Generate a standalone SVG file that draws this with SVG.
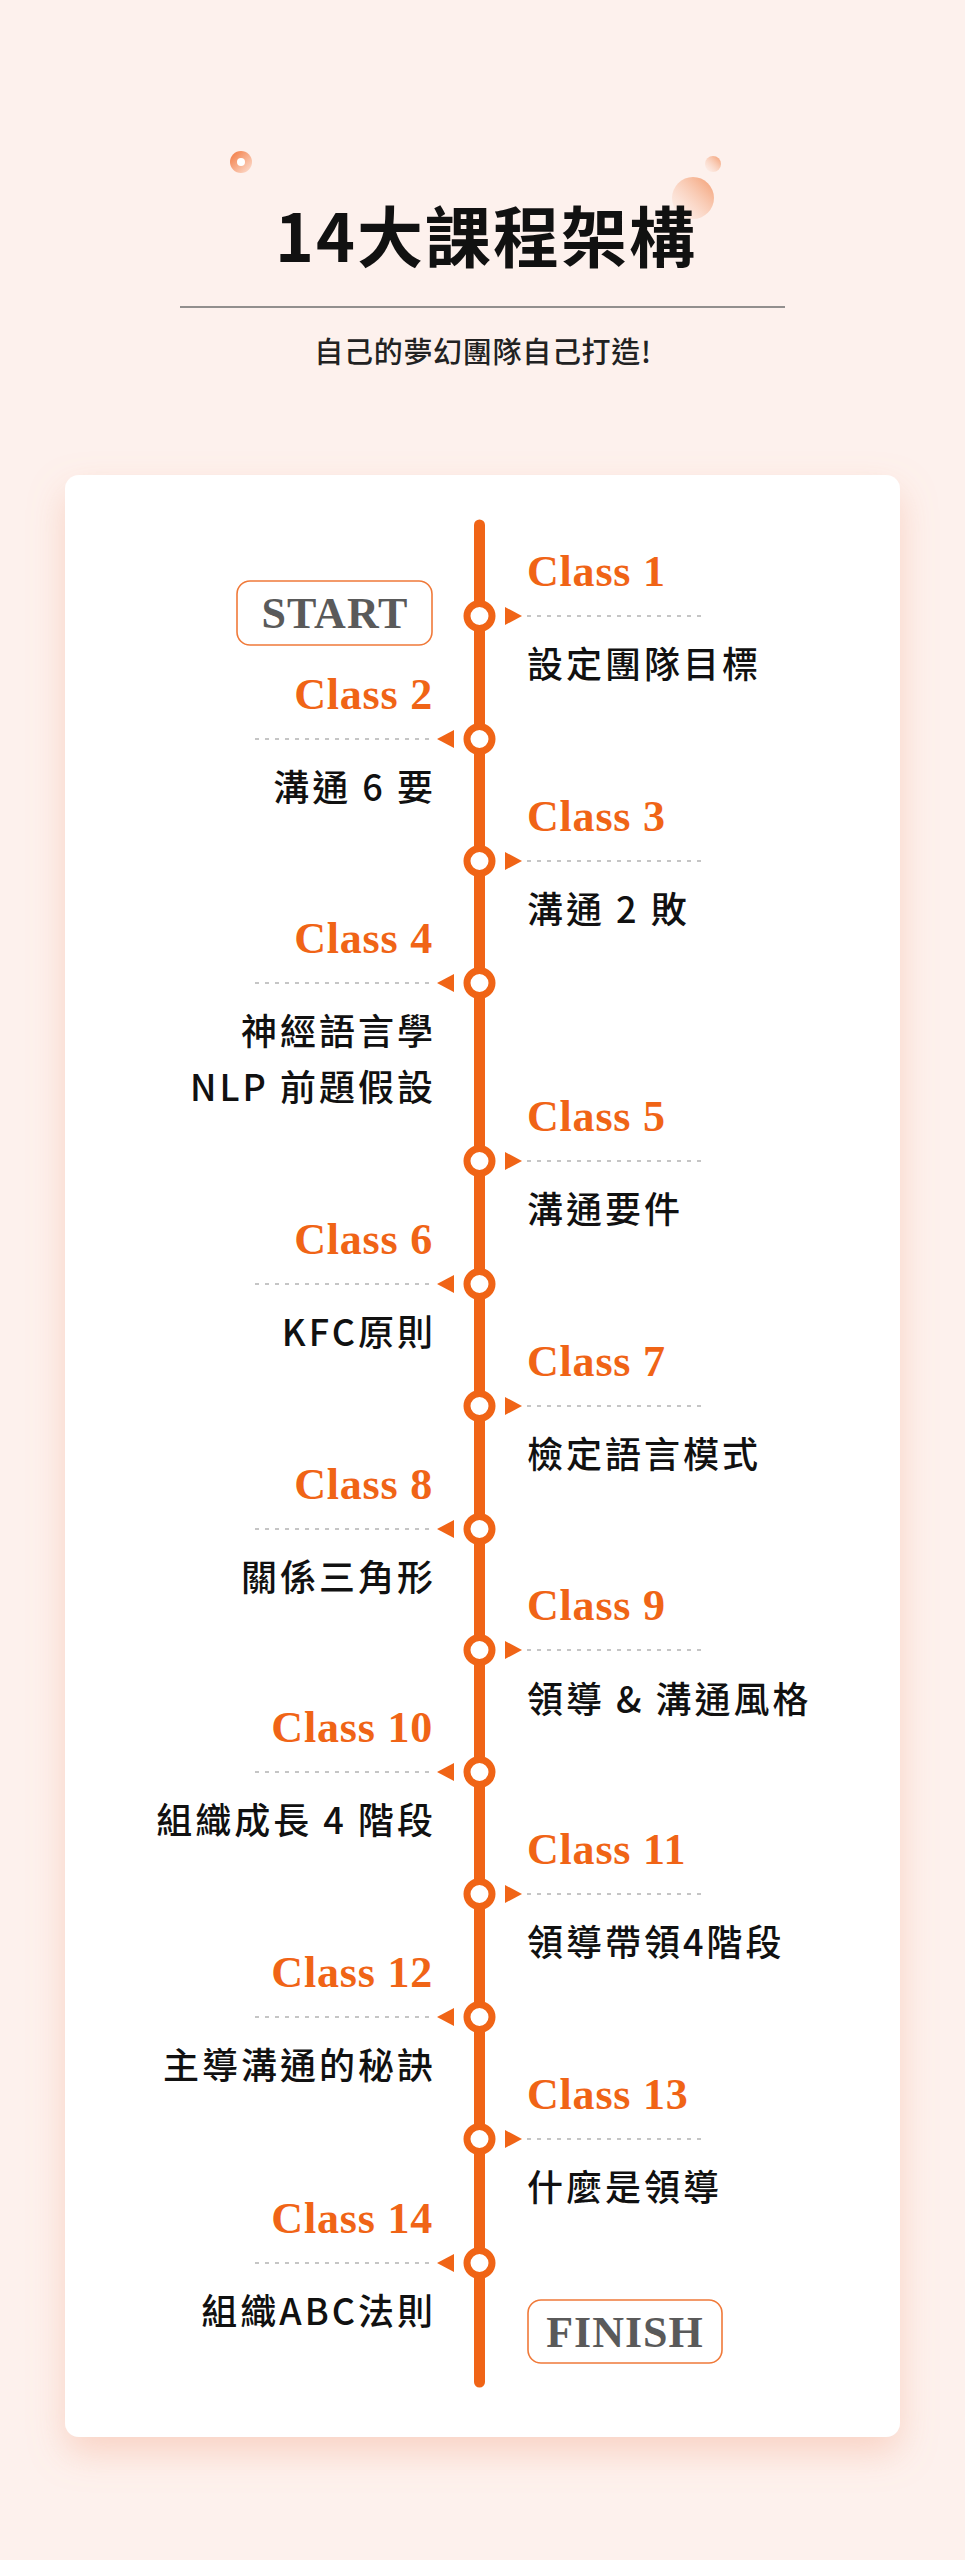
<svg xmlns="http://www.w3.org/2000/svg" width="965" height="2560" viewBox="0 0 965 2560">
<defs>
<style>
.cls{font-family:"Liberation Serif",serif;font-weight:700;font-size:44px;fill:#f06416;letter-spacing:0.8px}
.txt{font-family:"Noto Sans CJK TC","Noto Sans",sans-serif;font-weight:500;font-size:36px;fill:#111;letter-spacing:3px}
.l{text-anchor:end}
.dot{stroke:#b3b3b3;stroke-width:1.6;stroke-dasharray:4 6;fill:none}
.node{fill:#fff;stroke:#f06416;stroke-width:7}
.arr{fill:#f06416}
.tag{fill:#fff;stroke:#f07a3a;stroke-width:1.6}
.tagt{font-family:"Liberation Serif",serif;font-weight:700;font-size:44px;fill:#5a5a5a;letter-spacing:1px;text-anchor:middle}
</style>
<linearGradient id="g1" x1="0" y1="0" x2="1" y2="1">
<stop offset="0" stop-color="#f2773d"/>
<stop offset="1" stop-color="#fde2d6"/>
</linearGradient>
<linearGradient id="g2" x1="1" y1="0" x2="0" y2="1">
<stop offset="0" stop-color="#f39a6c"/>
<stop offset="1" stop-color="#fdebe4" stop-opacity="0.3"/>
</linearGradient>
<filter id="sh" x="-10%" y="-5%" width="120%" height="112%">
<feDropShadow dx="0" dy="16" stdDeviation="18" flood-color="#f29a78" flood-opacity="0.35"/>
</filter>
</defs>
<rect width="965" height="2560" fill="#fdf1ed"/>
<g id="header">
<circle cx="241" cy="162" r="11" fill="url(#g1)"/>
<circle cx="241" cy="162" r="4" fill="#fff"/>
<circle cx="713" cy="164" r="8" fill="url(#g2)"/>
<circle cx="693" cy="198" r="21" fill="url(#g2)"/>
<text x="275" y="262" font-family="'Noto Sans CJK TC','Noto Sans',sans-serif" font-weight="700" font-size="66" letter-spacing="2" fill="#111">14大課程架構</text>
<line x1="180" y1="307" x2="785" y2="307" stroke="#6e6e6e" stroke-width="1.5"/>
<text x="483" y="363" text-anchor="middle" font-family="'Noto Sans CJK TC','Noto Sans',sans-serif" font-weight="500" font-size="29" letter-spacing="0.7" fill="#222">自己的夢幻團隊自己打造!</text>
</g>
<rect id="card" x="65" y="475" width="835" height="1962" rx="14" fill="#fff" filter="url(#sh)"/>
<g id="connectors">
<line x1="479.5" y1="525" x2="479.5" y2="2382" stroke="#f06416" stroke-width="11" stroke-linecap="round"/>
</g>
<g id="start">
<rect class="tag" x="237" y="581" width="195" height="64" rx="13"/>
<text class="tagt" x="335" y="628">START</text>
</g>
<g id="finish">
<rect class="tag" x="528" y="2300" width="194" height="63" rx="13"/>
<text class="tagt" x="625" y="2347">FINISH</text>
</g>
<g id="class1">
<circle class="node" cx="479.5" cy="616" r="12.5"/>
<polygon class="arr" points="505,607 522,616 505,625"/>
<line class="dot" x1="527" y1="616" x2="703" y2="616"/>
<text class="cls" x="527" y="586">Class 1</text>
<text class="txt" x="527" y="678">設定團隊目標</text>
</g>
<g id="class2">
<circle class="node" cx="479.5" cy="739" r="12.5"/>
<polygon class="arr" points="454,730 437,739 454,748"/>
<line class="dot" x1="255" y1="739" x2="433" y2="739"/>
<text class="cls l" x="433" y="709">Class 2</text>
<text class="txt l" x="436" y="801">溝通 6 要</text>
</g>
<g id="class3">
<circle class="node" cx="479.5" cy="861" r="12.5"/>
<polygon class="arr" points="505,852 522,861 505,870"/>
<line class="dot" x1="527" y1="861" x2="703" y2="861"/>
<text class="cls" x="527" y="831">Class 3</text>
<text class="txt" x="527" y="923">溝通 2 敗</text>
</g>
<g id="class4">
<circle class="node" cx="479.5" cy="983" r="12.5"/>
<polygon class="arr" points="454,974 437,983 454,992"/>
<line class="dot" x1="255" y1="983" x2="433" y2="983"/>
<text class="cls l" x="433" y="953">Class 4</text>
<text class="txt l" x="436" y="1045">神經語言學</text>
<text class="txt l" x="436" y="1101">NLP 前題假設</text>
</g>
<g id="class5">
<circle class="node" cx="479.5" cy="1161" r="12.5"/>
<polygon class="arr" points="505,1152 522,1161 505,1170"/>
<line class="dot" x1="527" y1="1161" x2="703" y2="1161"/>
<text class="cls" x="527" y="1131">Class 5</text>
<text class="txt" x="527" y="1223">溝通要件</text>
</g>
<g id="class6">
<circle class="node" cx="479.5" cy="1284" r="12.5"/>
<polygon class="arr" points="454,1275 437,1284 454,1293"/>
<line class="dot" x1="255" y1="1284" x2="433" y2="1284"/>
<text class="cls l" x="433" y="1254">Class 6</text>
<text class="txt l" x="436" y="1346">KFC原則</text>
</g>
<g id="class7">
<circle class="node" cx="479.5" cy="1406" r="12.5"/>
<polygon class="arr" points="505,1397 522,1406 505,1415"/>
<line class="dot" x1="527" y1="1406" x2="703" y2="1406"/>
<text class="cls" x="527" y="1376">Class 7</text>
<text class="txt" x="527" y="1468">檢定語言模式</text>
</g>
<g id="class8">
<circle class="node" cx="479.5" cy="1529" r="12.5"/>
<polygon class="arr" points="454,1520 437,1529 454,1538"/>
<line class="dot" x1="255" y1="1529" x2="433" y2="1529"/>
<text class="cls l" x="433" y="1499">Class 8</text>
<text class="txt l" x="436" y="1591">關係三角形</text>
</g>
<g id="class9">
<circle class="node" cx="479.5" cy="1650" r="12.5"/>
<polygon class="arr" points="505,1641 522,1650 505,1659"/>
<line class="dot" x1="527" y1="1650" x2="703" y2="1650"/>
<text class="cls" x="527" y="1620">Class 9</text>
<text class="txt" x="527" y="1713">領導 &amp; 溝通風格</text>
</g>
<g id="class10">
<circle class="node" cx="479.5" cy="1772" r="12.5"/>
<polygon class="arr" points="454,1763 437,1772 454,1781"/>
<line class="dot" x1="255" y1="1772" x2="433" y2="1772"/>
<text class="cls l" x="433" y="1742">Class 10</text>
<text class="txt l" x="436" y="1834">組織成長 4 階段</text>
</g>
<g id="class11">
<circle class="node" cx="479.5" cy="1894" r="12.5"/>
<polygon class="arr" points="505,1885 522,1894 505,1903"/>
<line class="dot" x1="527" y1="1894" x2="703" y2="1894"/>
<text class="cls" x="527" y="1864">Class 11</text>
<text class="txt" x="527" y="1956">領導帶領4階段</text>
</g>
<g id="class12">
<circle class="node" cx="479.5" cy="2017" r="12.5"/>
<polygon class="arr" points="454,2008 437,2017 454,2026"/>
<line class="dot" x1="255" y1="2017" x2="433" y2="2017"/>
<text class="cls l" x="433" y="1987">Class 12</text>
<text class="txt l" x="436" y="2079">主導溝通的秘訣</text>
</g>
<g id="class13">
<circle class="node" cx="479.5" cy="2139" r="12.5"/>
<polygon class="arr" points="505,2130 522,2139 505,2148"/>
<line class="dot" x1="527" y1="2139" x2="703" y2="2139"/>
<text class="cls" x="527" y="2109">Class 13</text>
<text class="txt" x="527" y="2201">什麼是領導</text>
</g>
<g id="class14">
<circle class="node" cx="479.5" cy="2263" r="12.5"/>
<polygon class="arr" points="454,2254 437,2263 454,2272"/>
<line class="dot" x1="255" y1="2263" x2="433" y2="2263"/>
<text class="cls l" x="433" y="2233">Class 14</text>
<text class="txt l" x="436" y="2325">組織ABC法則</text>
</g>
</svg>
